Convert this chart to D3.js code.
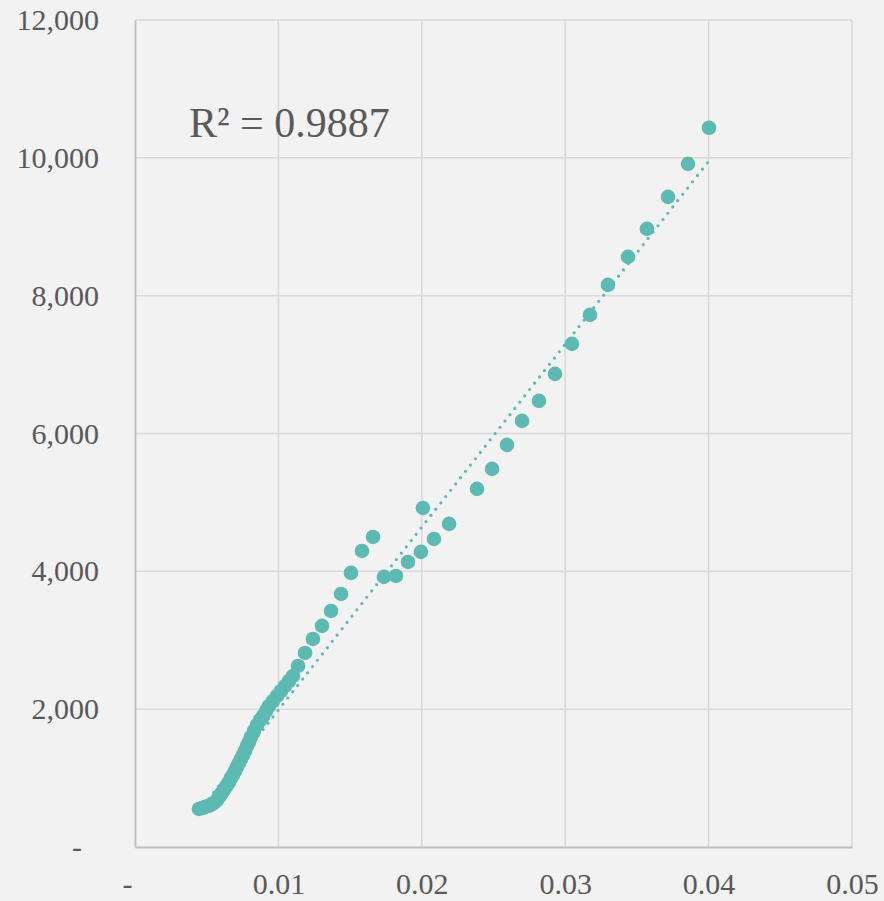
<!DOCTYPE html>
<html>
<head>
<meta charset="utf-8">
<script src="https://cdn.jsdelivr.net/npm/d3@7"></script>
<style>
  html, body { margin: 0; padding: 0; background: #f2f2f2; }
  svg { display: block; }
  svg text { font-family: "Liberation Serif", "Times New Roman", serif; }
</style>
</head>
<body>
<svg id="chart" width="884" height="901"></svg>
<script>
const xValues = [
  0.00446, 0.00467, 0.00488, 0.00509, 0.00530, 0.00551, 0.00572, 0.00586, 0.00600, 0.00614,
  0.00628, 0.00642, 0.00656, 0.00669, 0.00683, 0.00697, 0.00711, 0.00725, 0.00739, 0.00753,
  0.00767, 0.00781, 0.00795, 0.00809, 0.00830, 0.00851, 0.00872, 0.00893, 0.00914, 0.00934,
  0.00962, 0.00990, 0.01018, 0.01046, 0.01074, 0.01102,
  0.01137, 0.01186, 0.01241, 0.01304, 0.01367, 0.01437, 0.01506, 0.01583, 0.01660, 0.01736,
  0.01820, 0.01904, 0.01994, 0.02008, 0.02085, 0.02190, 0.02385, 0.02490, 0.02594, 0.02699,
  0.02817, 0.02929, 0.03047, 0.03173, 0.03298, 0.03438, 0.03570, 0.03717, 0.03856, 0.04003
];
const yValues = [
  552, 566, 581, 595, 610, 639, 682, 726, 769, 813,
  856, 900, 943, 1001, 1045, 1103, 1161, 1219, 1277, 1335,
  1393, 1466, 1524, 1597, 1684, 1771, 1843, 1901, 1974, 2046,
  2119, 2192, 2264, 2337, 2409, 2482,
  2627, 2816, 3019, 3208, 3425, 3672, 3977, 4296, 4499, 3919,
  3933, 4136, 4282, 4920, 4470, 4688, 5196, 5486, 5835, 6183,
  6473, 6865, 7300, 7721, 8157, 8563, 8970, 9434, 9913, 10436
];
const xTicks = [0, 0.01, 0.02, 0.03, 0.04, 0.05];
const yTicks = [0, 2000, 4000, 6000, 8000, 10000, 12000];
const rSquaredLabel = "R² = 0.9887";
// linear trendline coefficients (y = slope * x + intercept)
const trendSlope = 265400;
const trendIntercept = -666;

const points = xValues.map((x, i) => ({ x, y: yValues[i] }));

const svg = d3.select("#chart");
const margin = { left: 135, right: 32, top: 20, bottom: 54 };
const W = 884, H = 901;

const x = d3.scaleLinear().domain([0, 0.05]).range([margin.left, W - margin.right]);
const y = d3.scaleLinear().domain([0, 12000]).range([H - margin.bottom, margin.top]);

const textColor = "#595959";
const serif = "Liberation Serif";

// gridlines
svg.append("g")
  .selectAll("line")
  .data(yTicks.filter(d => d > 0))
  .join("line")
  .attr("x1", x(0)).attr("x2", x(0.05))
  .attr("y1", d => y(d)).attr("y2", d => y(d))
  .attr("stroke", "#d9d9d9").attr("stroke-width", 1.5);

svg.append("g")
  .selectAll("line")
  .data(xTicks.filter(d => d > 0))
  .join("line")
  .attr("x1", d => x(d)).attr("x2", d => x(d))
  .attr("y1", y(0)).attr("y2", y(12000))
  .attr("stroke", "#d9d9d9").attr("stroke-width", 1.5);

// axes
const yAxis = d3.axisLeft(y).tickValues(yTicks).tickSize(0).tickPadding(36)
  .tickFormat(d => d === 0 ? "-" : d3.format(",")(d));
const gy = svg.append("g").attr("transform", `translate(${x(0)},0)`).call(yAxis);
gy.attr("font-family", serif);
gy.select(".domain").attr("stroke", "#bfbfbf").attr("stroke-width", 1.8);
gy.selectAll("text")
  .attr("fill", textColor).attr("font-size", 30)
  .attr("dx", d => d === 0 ? -17 : 0);

const xAxis = d3.axisBottom(x).tickValues(xTicks).tickSize(0).tickPadding(26)
  .tickFormat(d => d === 0 ? "-" : d3.format(".2f")(d));
const gx = svg.append("g").attr("transform", `translate(0,${y(0)})`).call(xAxis);
gx.attr("font-family", serif);
gx.select(".domain").attr("stroke", "#bfbfbf").attr("stroke-width", 1.8);
gx.selectAll("text")
  .attr("fill", textColor).attr("font-size", 30)
  .attr("dx", d => d === 0 ? -8 : 0);

// markers
svg.append("g")
  .selectAll("circle")
  .data(points)
  .join("circle")
  .attr("cx", d => x(d.x))
  .attr("cy", d => y(d.y))
  .attr("r", 7.3)
  .attr("fill", "#5cbab2");

// linear trendline over the data's x extent
const [xmin, xmax] = d3.extent(points, d => d.x);
const line = d3.line().x(d => x(d)).y(d => y(trendSlope * d + trendIntercept));
svg.append("path")
  .datum([xmin, xmax])
  .attr("d", line)
  .attr("fill", "none")
  .attr("stroke", "#5cbab2")
  .attr("stroke-width", 3.2)
  .attr("stroke-linecap", "round")
  .attr("stroke-dasharray", "0 8");

// R² label
svg.append("text")
  .attr("x", 189).attr("y", 137)
  .attr("font-family", serif)
  .attr("fill", textColor).attr("font-size", 42)
  .text(rSquaredLabel);
</script>
</body>
</html>
